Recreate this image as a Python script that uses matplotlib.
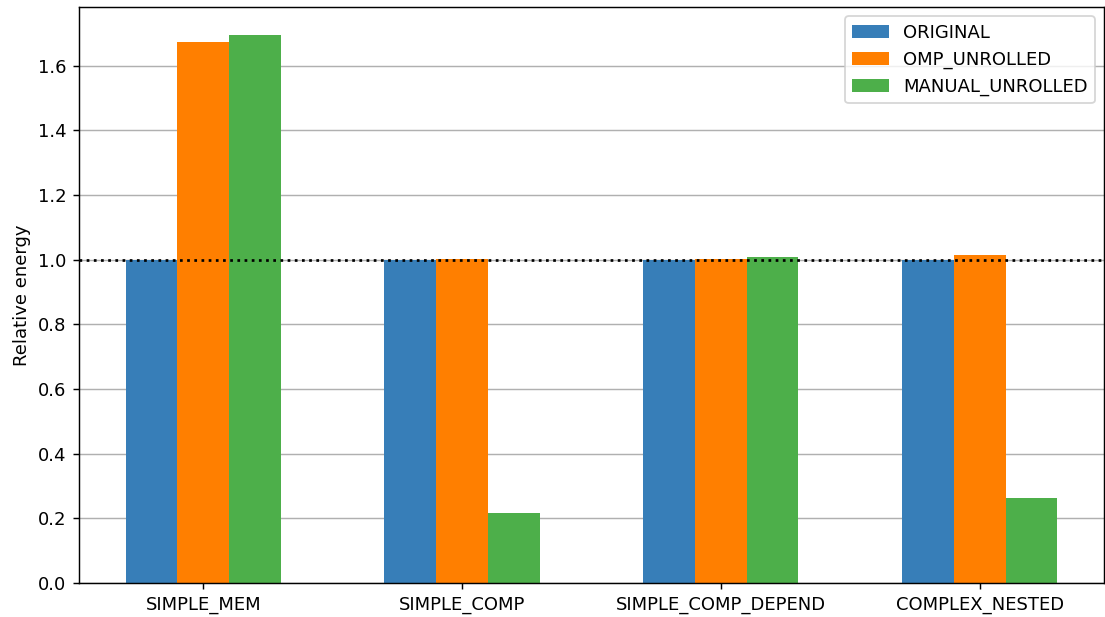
import numpy as np
import matplotlib.pyplot as plt

benchmarks = ["SIMPLE_MEM", "SIMPLE_COMP", "SIMPLE_COMP_DEPEND", "COMPLEX_NESTED"]
original = [1.0, 1.0, 1.0, 1.0]
omp_unrolled = [1.673, 1.002, 1.002, 1.015]
manual_unrolled = [1.695, 0.216, 1.008, 0.263]

series = [
    ("ORIGINAL", original, "#377eb8"),
    ("OMP_UNROLLED", omp_unrolled, "#ff7f00"),
    ("MANUAL_UNROLLED", manual_unrolled, "#4daf4a"),
]

dpi = 130
fig, ax = plt.subplots(figsize=(1105 / dpi, 617 / dpi), dpi=dpi)
fig.subplots_adjust(left=0.0715, right=0.999, top=0.988, bottom=0.055)

x = np.arange(len(benchmarks))
width = 0.2
for i, (name, vals, color) in enumerate(series):
    ax.bar(x + (i - 1) * width, vals, width, label=name, color=color, zorder=2)

ax.axhline(1.0, color="black", linestyle=":", linewidth=1.5, zorder=3)
ax.yaxis.grid(True, color="#b0b0b0", zorder=0)
ax.set_axisbelow(True)

ax.set_xticks(x)
ax.set_xticklabels(benchmarks)
ax.set_ylabel("Relative energy")
ax.legend(loc="upper right")

fig.savefig("out.png", dpi=dpi)
